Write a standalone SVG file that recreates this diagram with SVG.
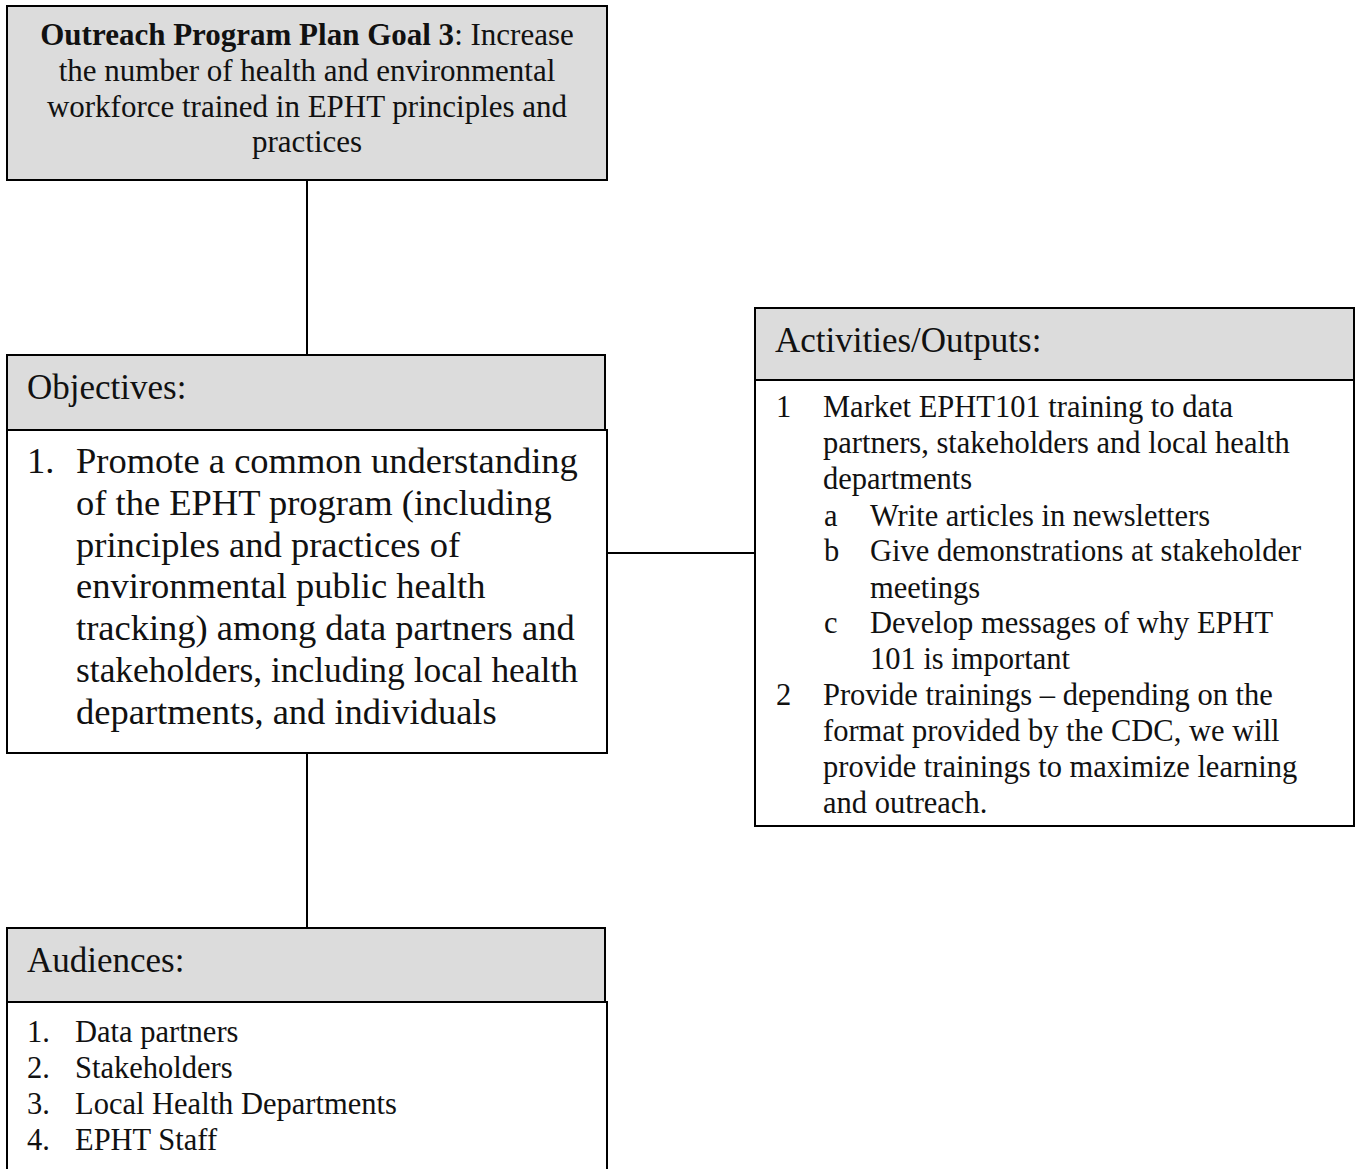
<svg xmlns="http://www.w3.org/2000/svg" width="1356" height="1169" viewBox="0 0 1356 1169">
<style>
.hdr{fill:#dcdcdc;stroke:#000;stroke-width:2}
.body{fill:#fff;stroke:#000;stroke-width:2}
.t{font-family:"Liberation Serif","DejaVu Serif",serif;fill:#111}
.g{font-size:31px}
.h{font-size:35px}
.o{font-size:36.5px}
.a{font-size:30.5px}
.conn{stroke:#000;stroke-width:2;fill:none}
</style>
<rect x="0" y="0" width="1356" height="1169" fill="#fff"/>
<g id="connectors">
<line class="conn" x1="307" y1="180" x2="307" y2="355"/>
<line class="conn" x1="307" y1="753" x2="307" y2="928"/>
<line class="conn" x1="607" y1="553" x2="755" y2="553"/>
</g>
<g id="goal">
<rect class="hdr" x="7" y="6" width="600" height="174"/>
<text class="t g" x="307" y="45" text-anchor="middle"><tspan font-weight="bold">Outreach Program Plan Goal 3</tspan>: Increase</text>
<text class="t g" x="307" y="81" text-anchor="middle">the number of health and environmental</text>
<text class="t g" x="307" y="117" text-anchor="middle">workforce trained in EPHT principles and</text>
<text class="t g" x="307" y="152" text-anchor="middle">practices</text>
</g>
<g id="objectives">
<rect class="hdr" x="7" y="355" width="598" height="75"/>
<text class="t h" x="27" y="399">Objectives:</text>
<rect class="body" x="7" y="430" width="600" height="323"/>
<text class="t o" x="27" y="473">1.</text>
<text class="t o" x="76" y="473">Promote a common understanding</text>
<text class="t o" x="76" y="515">of the EPHT program (including</text>
<text class="t o" x="76" y="557">principles and practices of</text>
<text class="t o" x="76" y="598">environmental public health</text>
<text class="t o" x="76" y="640">tracking) among data partners and</text>
<text class="t o" x="76" y="682" textLength="502" lengthAdjust="spacingAndGlyphs">stakeholders, including local health</text>
<text class="t o" x="76" y="724">departments, and individuals</text>
</g>
<g id="activities">
<rect class="hdr" x="755" y="308" width="599" height="72"/>
<text class="t h" x="775" y="352">Activities/Outputs:</text>
<rect class="body" x="755" y="380" width="599" height="446"/>
<text class="t a" x="776" y="417">1</text>
<text class="t a" x="823" y="417">Market EPHT101 training to data</text>
<text class="t a" x="823" y="453">partners, stakeholders and local health</text>
<text class="t a" x="823" y="489">departments</text>
<text class="t a" x="824" y="526">a</text>
<text class="t a" x="870" y="526">Write articles in newsletters</text>
<text class="t a" x="824" y="561">b</text>
<text class="t a" x="870" y="561">Give demonstrations at stakeholder</text>
<text class="t a" x="870" y="598">meetings</text>
<text class="t a" x="824" y="633">c</text>
<text class="t a" x="870" y="633">Develop messages of why EPHT</text>
<text class="t a" x="870" y="669">101 is important</text>
<text class="t a" x="776" y="705">2</text>
<text class="t a" x="823" y="705">Provide trainings – depending on the</text>
<text class="t a" x="823" y="741">format provided by the CDC, we will</text>
<text class="t a" x="823" y="777">provide trainings to maximize learning</text>
<text class="t a" x="823" y="813">and outreach.</text>
</g>
<g id="audiences">
<rect class="hdr" x="7" y="928" width="598" height="74"/>
<text class="t h" x="27" y="972">Audiences:</text>
<rect class="body" x="7" y="1002" width="600" height="180"/>
<text class="t a" x="27" y="1042">1.</text>
<text class="t a" x="75" y="1042">Data partners</text>
<text class="t a" x="27" y="1078">2.</text>
<text class="t a" x="75" y="1078">Stakeholders</text>
<text class="t a" x="27" y="1114">3.</text>
<text class="t a" x="75" y="1114">Local Health Departments</text>
<text class="t a" x="27" y="1150">4.</text>
<text class="t a" x="75" y="1150">EPHT Staff</text>
</g>
</svg>
